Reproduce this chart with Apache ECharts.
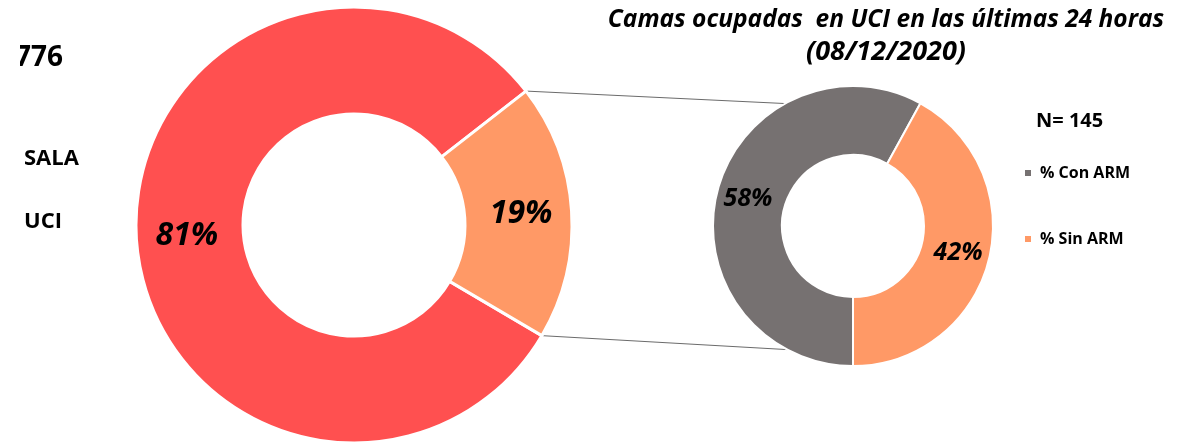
<!DOCTYPE html>
<html>
<head>
<meta charset="utf-8">
<script src="https://cdn.jsdelivr.net/npm/echarts@6/dist/echarts.min.js"></script>
<style>
html,body{margin:0;padding:0;background:#fff;}
#chart{width:1191px;height:443px;}
</style>
</head>
<body>
<div id="chart"></div>
<script>
// ---- data ----
var mainCategories = ['SALA', 'UCI'];
var mainValues = [81, 19];
var uciCategories = ['% Con ARM', '% Sin ARM'];
var uciValues = [58, 42];
var titleLine1 = 'Camas ocupadas  en UCI en las últimas 24 horas';
var titleLine2 = '(08/12/2020)';
var mainTotalLabel = 'N= 776';
var uciTotalLabel = 'N= 145';

// ---- geometry / style ----
var FONT = '"Open Sans", "Liberation Sans", sans-serif';
var bigC = [354, 225], bigR = [111, 218], bigStart = -30.5;
var smallC = [853, 226], smallR = [71, 140], smallStart = -90;
var mainColors = ['#FF5050', '#FF9966'];
var uciColors = ['#767171', '#FF9966'];

function sum(a){ return a.reduce(function(s,v){return s+v;},0); }
function pt(c, r, deg){ var a = deg*Math.PI/180; return [c[0] + r*Math.cos(a), c[1] - r*Math.sin(a)]; }

// angles of the UCI slice of the main donut (clockwise from startAngle)
var mainTot = sum(mainValues);
var uciSliceStart = bigStart - 360*mainValues[0]/mainTot; // end of SALA
var uciSliceEnd = uciSliceStart - 360*mainValues[1]/mainTot;
var pTop = pt(bigC, bigR[1], uciSliceStart);
var pBot = pt(bigC, bigR[1], uciSliceEnd);
var qTop = pt(smallC, smallR[1], 119);
var qBot = pt(smallC, smallR[1], -118);

var chart = echarts.init(document.getElementById('chart'), null, {renderer:'canvas'});

function toData(cats, vals, cols){
  return cats.map(function(c,i){ return {name:c, value:vals[i], itemStyle:{color:cols[i]}}; });
}

var option = {
  backgroundColor:'#fff',
  animation:false,
  legend:{
    data: uciCategories,
    orient:'vertical',
    left: 1023, top: 165,
    padding:0,
    itemWidth:8, itemHeight:8, icon:'rect',
    itemGap: 50,
    textStyle:{fontFamily:FONT, fontSize:16, fontWeight:'bold', color:'#000', padding:[0,0,0,3]}
  },
  series:[
    {
      type:'pie', name:'main',
      center: bigC, radius: bigR, startAngle: bigStart, clockwise:true,
      avoidLabelOverlap:false,
      itemStyle:{borderColor:'#fff', borderWidth:3},
      label:{show:true, position:'inside', formatter:'{c}%', fontFamily:FONT, fontSize:32,
             fontStyle:'italic', fontWeight:'bold', color:'#000'},
      labelLine:{show:false},
      emphasis:{disabled:true},
      data: toData(mainCategories, mainValues, mainColors)
    },
    {
      type:'pie', name:'uci',
      center: smallC, radius: smallR, startAngle: smallStart, clockwise:true,
      avoidLabelOverlap:false,
      itemStyle:{borderColor:'#fff', borderWidth:2},
      label:{show:true, position:'inside', formatter:'{c}%', fontFamily:FONT, fontSize:25,
             fontStyle:'italic', fontWeight:'bold', color:'#000'},
      labelLine:{show:false},
      emphasis:{disabled:true},
      data: toData(uciCategories, uciValues, uciColors)
    }
  ],
  graphic:[
    {type:'line', z:-1, shape:{x1:pTop[0], y1:pTop[1], x2:qTop[0], y2:qTop[1]}, style:{stroke:'#6b6b6b', lineWidth:1}},
    {type:'line', z:-1, shape:{x1:pBot[0], y1:pBot[1], x2:qBot[0], y2:qBot[1]}, style:{stroke:'#6b6b6b', lineWidth:1}},
    {type:'text', x:886, y:8, style:{text:titleLine1, textAlign:'center', font:'italic bold 24.5px ' + FONT, fill:'#000'}},
    {type:'text', x:886, y:39, style:{text:titleLine2, textAlign:'center', font:'italic bold 27px ' + FONT, fill:'#000'}},
    {type:'text', x:1036, y:111, style:{text:uciTotalLabel, font:'bold 20px ' + FONT, fill:'#000'}},
    {type:'text', x:63, y:44, style:{text:mainTotalLabel, textAlign:'right', font:'bold 28px ' + FONT, fill:'#000'}},
    {type:'rect', shape:{x:0, y:40, width:20, height:45}, style:{fill:'#fff'}},
    {type:'text', x:24, y:148, style:{text:mainCategories[0], font:'bold 22px ' + FONT, fill:'#000'}},
    {type:'text', x:24, y:211, style:{text:mainCategories[1], font:'bold 22px ' + FONT, fill:'#000'}}
  ]
};
chart.setOption(option);
</script>
</body>
</html>
